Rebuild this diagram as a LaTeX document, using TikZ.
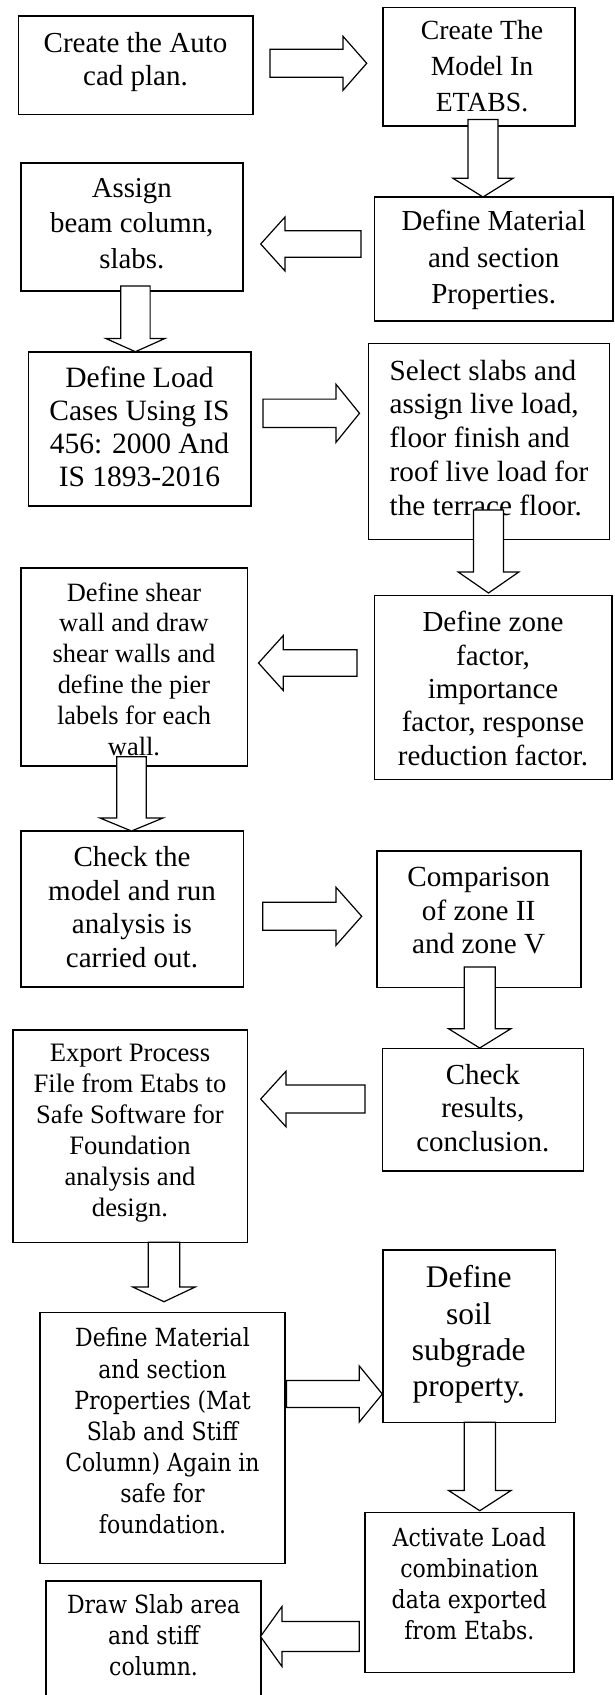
\documentclass[tikz,border=0pt]{standalone}
\usepackage{fontspec}
\setmainfont{Liberation Serif}
\newfontfamily\cambriafont[FakeStretch=0.88]{DejaVu Serif}
\usetikzlibrary{fit}
\newcommand\fs[2]{\fontsize{#1}{#2}\selectfont}
% horizontal block arrow: tail x, head-base x, tip x, centre y, shaft half-width, head half-width
\newcommand\harrow[6]{\draw[barrow] (#1,#4-#5) -- (#2,#4-#5) -- (#2,#4-#6) -- (#3,#4) -- (#2,#4+#6) -- (#2,#4+#5) -- (#1,#4+#5) -- cycle;}
% vertical block arrow: centre x, tail y, head-base y, tip y, shaft half-width, head half-width
\newcommand\varrow[6]{\draw[barrow] (#1-#5,#2) -- (#1-#5,#3) -- (#1-#6,#3) -- (#1,#4) -- (#1+#6,#3) -- (#1+#5,#3) -- (#1+#5,#2) -- cycle;}
\tikzset{
  box/.style={draw, line width=1.6pt, inner sep=0pt},
  barrow/.style={draw, fill=white, line width=1.2pt, line join=miter},
  txt/.style={inner sep=0pt, align=center, execute at begin node=\strut, execute at end node=\strut},
}
\begin{document}
\begin{tikzpicture}[x=1pt,y=-1pt]
\useasboundingbox (0,0) rectangle (614,1695);
\clip (0,0) rectangle (614,1695);
\fill[white] (0,0) rectangle (614,1695);
% boxes
\node[box, fit={(18.3,16) (252.7,114.3)}] (b1) {};
\node[box, fit={(382.7,7.3) (575,126)}] (b2) {};
\node[box, fit={(374.5,196.7) (613,320.7)}] (b3) {};
\node[box, fit={(20.7,162.7) (243,291)}] (b4) {};
\node[box, fit={(28.3,351.7) (250.7,505.7)}] (b5) {};
\node[box, fit={(368.6,343.3) (609.5,539.3)}] (b6) {};
\node[box, fit={(374.5,595.5) (611.7,779.3)}] (b7) {};
\node[box, fit={(20.7,568) (247.3,766)}] (b8) {};
\node[box, fit={(20.7,830.8) (243.3,987)}] (b9) {};
\node[box, fit={(376.7,850.7) (580.7,987.3)}] (b10) {};
\node[box, fit={(382.5,1048.3) (583.3,1170.7)}] (b11) {};
\node[box, fit={(12.7,1030) (247.3,1242.5)}] (b12) {};
\node[box, fit={(40,1312.3) (285,1563.3)}] (b13) {};
\node[box, fit={(382.7,1249.7) (555.3,1422.5)}] (b14) {};
\node[box, fit={(365,1512.3) (573.8,1672.5)}] (b15) {};
\node[box, fit={(46.2,1581) (260.9,1702)}] (b16) {};
% texts
\node[txt, font=\fs{29}{33}] (t1) at (135.5,64.2) {Create the Auto\\cad plan.};
\node[txt, font=\fs{27.7}{35.8}] (t2) at (482,71.3) {Create The\\Model In\\ETABS.};
\node[txt, font=\fs{29}{36.5}] (t3) at (493.7,262.5) {Define Material\\and section\\Properties.};
\node[txt, font=\fs{28.8}{35.8}] (t4) at (131.8,228.7) {Assign\\beam column,\\slabs.};
\node[txt, font=\fs{29.5}{33.1}] (t5) at (139.5,431.4) {Define Load\\Cases Using IS\\456: 2000 And\\IS 1893-2016};
\node[txt, align=left, anchor=west, font=\fs{29.2}{33.75}] (t6) at (389.5,442.45) {Select slabs and\\assign live load,\\floor finish and\\roof live load for\\the terrace floor.};
\node[txt, font=\fs{29}{33.35}] (t7) at (493,693.3) {Define zone\\factor,\\importance\\factor, response\\reduction factor.};
\node[txt, font=\fs{26.4}{30.8}] (t8) at (134,673.5) {Define shear\\wall and draw\\shear walls and\\define the pier\\labels for each\\wall.};
\node[txt, font=\fs{29}{33.7}] (t9) at (132,912.1) {Check the\\model and run\\analysis is\\carried out.};
\node[txt, font=\fs{29.2}{33.85}] (t10) at (478.7,915.4) {Comparison\\of zone II\\and zone V};
\node[txt, font=\fs{29}{33.35}] (t11) at (482.8,1112.7) {Check\\results,\\conclusion.};
\node[txt, font=\fs{26.6}{30.9}] (t12) at (130,1135) {Export Process\\File from Etabs to\\Safe Software for\\Foundation\\analysis and\\design.};
\node[txt, font={\cambriafont\fs{25}{31.1}}] (t13) at (162.5,1435.4) {Define Material\\and section\\Properties (Mat\\Slab and Stiff\\Column) Again in\\safe for\\foundation.};
\node[txt, font=\fs{31.5}{36.3}] (t14) at (468.8,1336.6) {Define\\soil\\subgrade\\property.};
\node[txt, font={\cambriafont\fs{25}{30.8}}] (t15) at (469.4,1588.3) {Activate Load\\combination\\data exported\\from Etabs.};
\node[txt, font={\cambriafont\fs{25}{30.85}}] (t16) at (153.6,1639.7) {Draw Slab area\\and stiff\\column.};
% block arrows
\harrow{270}{343}{366.7}{63.3}{14}{27}
\varrow{483}{119.5}{178.3}{197}{15}{30}
\harrow{361}{285}{260.7}{244}{13.3}{27}
\varrow{135.4}{286}{338.5}{351.7}{14.7}{29.5}
\harrow{263}{336}{359.5}{413.3}{14.2}{29}
\varrow{488.5}{510}{572}{593}{15}{30.3}
\harrow{357}{283.3}{258.5}{663}{13.3}{27.5}
\varrow{131.5}{756.7}{818}{831}{14.7}{31.5}
\harrow{262.7}{336}{361.7}{916.3}{14}{29}
\varrow{479.7}{967}{1028.7}{1048}{15.5}{31.2}
\harrow{365}{286}{260.7}{1099}{14}{27.8}
\varrow{164}{1242.3}{1287}{1301.7}{15.8}{31.2}
\harrow{286.5}{359.3}{382.3}{1394}{13.5}{28}
\varrow{479.8}{1422.3}{1490.5}{1510.7}{15.6}{31.2}
\harrow{359.2}{282}{260.5}{1636.5}{15}{30}
\end{tikzpicture}
\end{document}
